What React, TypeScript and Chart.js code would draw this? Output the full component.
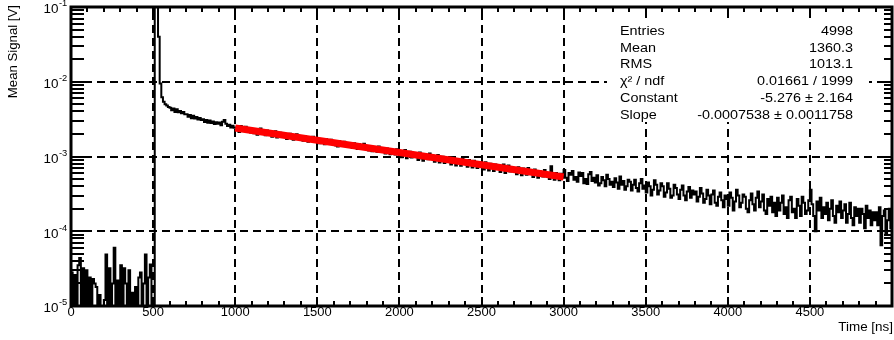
import React, { useEffect, useRef } from "react";
import { Chart, registerables } from "chart.js";

Chart.register(...registerables);

// ---------------- data (10 ns bins, contiguous) ----------------
const binWidth = 10;
// 0 – 490 ns : pedestal noise
const signalBaseline = [
  2.8e-5, 0, 2.6e-5, 0, 3.5e-5, 4.4e-5, 0, 3.2e-5, 0, 3.0e-5,
  0, 2.4e-5, 0, 2.3e-5, 2.0e-5, 1.8e-5, 0, 1.4e-5, 0, 0,
  1.2e-5, 4.9e-5, 0, 3.2e-5, 0, 2.0e-5, 6.0e-5, 0, 2.2e-5, 0,
  3.5e-5, 0, 3.2e-5, 2.0e-5, 0, 3.0e-5, 0, 1.5e-5, 0, 1.8e-5,
  0, 2.4e-5, 2.8e-5, 0, 2.0e-5, 4.9e-5, 0, 2.4e-5, 3.6e-5, 0,
];
// 500 – 590 ns : prompt peak
const signalPeak = [0, 1.5e-1, 1.3e-1, 4.0e-2, 9.5e-3, 6.2e-3, 5.4e-3, 5.0e-3, 4.8e-3, 4.6e-3];
// 600 – 2990 ns : slow component (fit region inside)
const signalDecayA = [
  4.50e-3, 4.15e-3, 4.40e-3, 3.95e-3, 4.30e-3, 3.90e-3, 4.05e-3, 3.80e-3, 3.95e-3, 3.68e-3,
  3.68e-3, 3.40e-3, 3.58e-3, 3.25e-3, 3.50e-3, 3.22e-3, 3.38e-3, 3.12e-3, 3.28e-3, 3.08e-3,
  3.15e-3, 2.90e-3, 3.08e-3, 2.82e-3, 3.02e-3, 2.80e-3, 2.95e-3, 2.72e-3, 2.88e-3, 2.74e-3,
  2.85e-3, 2.62e-3, 2.92e-3, 3.08e-3, 2.75e-3, 2.55e-3, 2.66e-3, 2.45e-3, 2.58e-3, 2.42e-3,
  2.45e-3, 2.30e-3, 2.12e-3, 2.55e-3, 2.20e-3, 2.38e-3, 2.50e-3, 2.15e-3, 2.28e-3, 2.10e-3,
  2.33e-3, 2.05e-3, 2.18e-3, 1.95e-3, 2.25e-3, 2.36e-3, 2.00e-3, 2.12e-3, 1.93e-3, 2.22e-3,
  2.02e-3, 2.15e-3, 1.84e-3, 1.97e-3, 2.18e-3, 1.80e-3, 1.92e-3, 2.08e-3, 1.86e-3, 2.00e-3,
  1.95e-3, 1.72e-3, 1.88e-3, 2.02e-3, 1.76e-3, 1.68e-3, 1.90e-3, 1.98e-3, 1.74e-3, 1.82e-3,
  1.80e-3, 1.62e-3, 1.86e-3, 1.70e-3, 1.58e-3, 1.76e-3, 1.64e-3, 1.84e-3, 1.60e-3, 1.72e-3,
  1.66e-3, 1.50e-3, 1.72e-3, 1.56e-3, 1.46e-3, 1.70e-3, 1.60e-3, 1.48e-3, 1.68e-3, 1.52e-3,
  1.55e-3, 1.40e-3, 1.36e-3, 1.60e-3, 1.48e-3, 1.38e-3, 1.57e-3, 1.44e-3, 1.35e-3, 1.50e-3,
  1.42e-3, 1.30e-3, 1.50e-3, 1.34e-3, 1.26e-3, 1.46e-3, 1.38e-3, 1.28e-3, 1.48e-3, 1.32e-3,
  1.33e-3, 1.20e-3, 1.38e-3, 1.18e-3, 1.30e-3, 1.24e-3, 1.16e-3, 1.36e-3, 1.22e-3, 1.28e-3,
  1.24e-3, 1.10e-3, 1.28e-3, 1.14e-3, 1.07e-3, 1.22e-3, 1.17e-3, 1.06e-3, 1.25e-3, 1.12e-3,
  1.18e-3, 0.98e-3, 1.12e-3, 1.22e-3, 0.95e-3, 1.05e-3, 1.16e-3, 0.97e-3, 1.10e-3, 1.02e-3,
  1.08e-3, 0.90e-3, 1.13e-3, 0.95e-3, 0.88e-3, 1.06e-3, 1.00e-3, 0.92e-3, 1.10e-3, 0.94e-3,
  1.02e-3, 0.85e-3, 0.96e-3, 1.05e-3, 0.83e-3, 0.90e-3, 0.99e-3, 0.82e-3, 0.94e-3, 0.88e-3,
  0.92e-3, 0.78e-3, 0.97e-3, 0.84e-3, 0.76e-3, 0.90e-3, 0.86e-3, 0.75e-3, 0.95e-3, 0.81e-3,
  0.85e-3, 0.73e-3, 0.90e-3, 0.77e-3, 0.71e-3, 0.88e-3, 0.80e-3, 0.70e-3, 0.84e-3, 0.76e-3,
  0.79e-3, 0.67e-3, 0.84e-3, 0.72e-3, 0.65e-3, 0.80e-3, 0.75e-3, 0.64e-3, 0.78e-3, 0.70e-3,
  0.74e-3, 0.62e-3, 0.71e-3, 0.78e-3, 0.60e-3, 0.68e-3, 0.76e-3, 0.63e-3, 0.72e-3, 0.66e-3,
  0.66e-3, 0.58e-3, 0.72e-3, 0.61e-3, 0.56e-3, 0.69e-3, 0.64e-3, 0.57e-3, 0.70e-3, 0.60e-3,
  0.63e-3, 0.53e-3, 0.67e-3, 0.57e-3, 0.52e-3, 0.64e-3, 0.60e-3, 0.54e-3, 0.66e-3, 0.56e-3,
  0.58e-3, 0.50e-3, 0.74e-3, 0.55e-3, 0.49e-3, 0.60e-3, 0.53e-3, 0.48e-3, 0.59e-3, 0.52e-3,
];
// 3000 – 4990 ns : tail
const signalDecayB = [
  0.66e-3, 0.52e-3, 0.47e-3, 0.60e-3, 0.57e-3, 0.64e-3, 0.49e-3, 0.53e-3, 0.46e-3, 0.61e-3,
  0.55e-3, 0.60e-3, 0.44e-3, 0.50e-3, 0.43e-3, 0.58e-3, 0.62e-3, 0.47e-3, 0.52e-3, 0.45e-3,
  0.56e-3, 0.41e-3, 0.44e-3, 0.53e-3, 0.48e-3, 0.40e-3, 0.57e-3, 0.50e-3, 0.42e-3, 0.46e-3,
  0.39e-3, 0.51e-3, 0.45e-3, 0.37e-3, 0.54e-3, 0.42e-3, 0.47e-3, 0.36e-3, 0.40e-3, 0.49e-3,
  0.46e-3, 0.35e-3, 0.42e-3, 0.49e-3, 0.38e-3, 0.34e-3, 0.44e-3, 0.50e-3, 0.37e-3, 0.41e-3,
  0.33e-3, 0.45e-3, 0.40e-3, 0.30e-3, 0.36e-3, 0.48e-3, 0.42e-3, 0.31e-3, 0.35e-3, 0.44e-3,
  0.40e-3, 0.29e-3, 0.33e-3, 0.44e-3, 0.37e-3, 0.28e-3, 0.30e-3, 0.42e-3, 0.38e-3, 0.31e-3,
  0.27e-3, 0.36e-3, 0.41e-3, 0.30e-3, 0.26e-3, 0.34e-3, 0.39e-3, 0.28e-3, 0.35e-3, 0.31e-3,
  0.34e-3, 0.25e-3, 0.29e-3, 0.38e-3, 0.32e-3, 0.24e-3, 0.27e-3, 0.36e-3, 0.30e-3, 0.23e-3,
  0.31e-3, 0.35e-3, 0.24e-3, 0.22e-3, 0.29e-3, 0.33e-3, 0.26e-3, 0.21e-3, 0.30e-3, 0.27e-3,
  0.22e-3, 0.33e-3, 0.28e-3, 0.19e-3, 0.25e-3, 0.36e-3, 0.30e-3, 0.21e-3, 0.24e-3, 0.31e-3,
  0.29e-3, 0.20e-3, 0.18e-3, 0.26e-3, 0.32e-3, 0.23e-3, 0.19e-3, 0.28e-3, 0.34e-3, 0.21e-3,
  0.25e-3, 0.31e-3, 0.19e-3, 0.17e-3, 0.27e-3, 0.22e-3, 0.29e-3, 0.18e-3, 0.24e-3, 0.16e-3,
  0.28e-3, 0.19e-3, 0.24e-3, 0.30e-3, 0.17e-3, 0.21e-3, 0.15e-3, 0.26e-3, 0.29e-3, 0.18e-3,
  0.20e-3, 0.15e-3, 0.27e-3, 0.22e-3, 0.16e-3, 0.29e-3, 0.24e-3, 0.17e-3, 0.19e-3, 0.26e-3,
  0.36e-3, 0.23e-3, 0.16e-3, 0.10e-3, 0.25e-3, 0.19e-3, 0.28e-3, 0.15e-3, 0.21e-3, 0.17e-3,
  0.24e-3, 0.14e-3, 0.20e-3, 0.26e-3, 0.16e-3, 0.13e-3, 0.22e-3, 0.18e-3, 0.25e-3, 0.15e-3,
  0.19e-3, 0.23e-3, 0.13e-3, 0.17e-3, 0.24e-3, 0.15e-3, 0.12e-3, 0.21e-3, 0.16e-3, 0.20e-3,
  0.13e-3, 0.20e-3, 0.17e-3, 0.11e-3, 0.22e-3, 0.15e-3, 0.19e-3, 0.12e-3, 0.18e-3, 0.14e-3,
  0.18e-3, 0.12e-3, 0.21e-3, 0.065e-3, 0.16e-3, 0.19e-3, 0.09e-3, 0.14e-3, 0.20e-3, 0.11e-3,
];

// exponential fit line (endpoints of fit range)
const fitTimes = [1000, 3000];
const fitValues = [2.40e-3, 5.33e-4];

// axes
const xMin = 0;
const xMax = 5000;
const yMin = 1e-5;
const yMax = 1e-1;
const xMajorTicks = [0, 500, 1000, 1500, 2000, 2500, 3000, 3500, 4000, 4500];
const xTickLabels = ["0", "500", "1000", "1500", "2000", "2500", "3000", "3500", "4000", "4500"];
const xMinorStep = 100;
const yDecades = [1e-5, 1e-4, 1e-3, 1e-2, 1e-1];
const yTickExponents = ["-5", "-4", "-3", "-2", "-1"];
const xTitle = "Time [ns]";
const yTitle = "Mean Signal [V]";

// stats box
const statNames = ["Entries", "Mean", "RMS", "χ² / ndf", "Constant", "Slope"];
const statValues = ["4998", "1360.3", "1013.1", "0.01661 / 1999", "-5.276 ± 2.164", "-0.0007538 ± 0.0011758"];

// ---------------- drawing helpers ----------------
const FONT = '"Liberation Sans", Arial, Helvetica, sans-serif';

function drawText(
  ctx: CanvasRenderingContext2D,
  text: string,
  x: number,
  y: number,
  align: CanvasTextAlign,
  size: number,
  sx: number,
  rotate = 0
) {
  ctx.save();
  ctx.translate(x, y);
  if (rotate) ctx.rotate(rotate);
  ctx.scale(sx, 1);
  ctx.font = `${size}px ${FONT}`;
  ctx.textAlign = align;
  ctx.textBaseline = "middle";
  ctx.fillStyle = "#000";
  ctx.fillText(text, 0, 0);
  ctx.restore();
}

function seg(ctx: CanvasRenderingContext2D, x1: number, y1: number, x2: number, y2: number) {
  ctx.beginPath();
  ctx.moveTo(x1, y1);
  ctx.lineTo(x2, y2);
  ctx.stroke();
}

const rootStylePlugin = {
  id: "rootStyle",
  beforeDatasetsDraw(chart: any) {
    const { ctx, chartArea: a, scales } = chart;
    const xs = scales.x;
    const ys = scales.y;
    ctx.save();
    ctx.strokeStyle = "#000";
    ctx.lineWidth = 2;
    ctx.setLineDash([8, 5]);
    for (const t of xMajorTicks) {
      if (t <= xMin || t >= xMax) continue;
      const px = Math.round(xs.getPixelForValue(t));
      seg(ctx, px, a.bottom, px, a.top);
    }
    for (const d of yDecades) {
      if (d <= yMin || d >= yMax) continue;
      const py = Math.round(ys.getPixelForValue(d));
      seg(ctx, a.left, py, a.right, py);
    }
    ctx.restore();
  },
  afterDraw(chart: any) {
    const { ctx, chartArea: a, scales } = chart;
    const xs = scales.x;
    const ys = scales.y;
    ctx.save();

    // stats box (white, no border)
    ctx.fillStyle = "#fff";
    ctx.fillRect(607, 18, 262, 104);
    const rowY0 = 31.5;
    const rowDy = 16.8;
    statNames.forEach((n, i) => {
      drawText(ctx, n, 620, rowY0 + i * rowDy, "left", 12, 1.2);
    });
    statValues.forEach((v, i) => {
      drawText(ctx, v, 853, rowY0 + i * rowDy, "right", 12, 1.2);
    });

    // ticks
    ctx.strokeStyle = "#000";
    ctx.lineWidth = 2;
    ctx.setLineDash([]);
    for (let t = xMin; t <= xMax; t += xMinorStep) {
      const px = Math.round(xs.getPixelForValue(t));
      const major = xMajorTicks.includes(t);
      const len = major ? 9 : 5;
      seg(ctx, px, a.bottom, px, a.bottom - len);
      seg(ctx, px, a.top, px, a.top + len);
    }
    for (let k = 0; k < yDecades.length; k++) {
      const d = yDecades[k];
      for (let m = 1; m <= 9; m++) {
        const v = d * m;
        if (v > yMax * 1.0001) break;
        const py = Math.round(ys.getPixelForValue(v));
        seg(ctx, a.left, py, a.left + 13, py);
        seg(ctx, a.right, py, a.right - 8, py);
      }
    }

    // frame
    ctx.lineWidth = 3;
    ctx.strokeRect(a.left, a.top, a.right - a.left, a.bottom - a.top);

    // x tick labels
    xMajorTicks.forEach((t, i) => {
      const px = xs.getPixelForValue(t);
      drawText(ctx, xTickLabels[i], px, 313, "center", 12, 1.08);
    });
    // y tick labels
    yDecades.forEach((d, i) => {
      const py = ys.getPixelForValue(d);
      drawText(ctx, "10", 58.5, py + 3, "right", 12, 1.12);
      drawText(ctx, yTickExponents[i], 59, py - 3, "left", 8.5, 1.1);
    });
    // titles
    drawText(ctx, xTitle, 893, 328, "right", 12, 1.12);
    drawText(ctx, yTitle, 14, 5, "right", 12, 1.1, -Math.PI / 2);

    ctx.restore();
  },
};

export default function App() {
  const ref = useRef<HTMLCanvasElement | null>(null);

  useEffect(() => {
    const canvas = ref.current;
    if (!canvas) return;

    const allBins = [...signalBaseline, ...signalPeak, ...signalDecayA, ...signalDecayB];
    const histPoints = allBins.map((v, i) => ({ x: i * binWidth, y: v > 0 ? v : yMin }));
    const last = allBins[allBins.length - 1];
    histPoints.push({ x: allBins.length * binWidth, y: last > 0 ? last : yMin });

    const fitPoints = fitTimes.map((t, i) => ({ x: t, y: fitValues[i] }));

    const chart = new Chart(canvas, {
      type: "line",
      data: {
        datasets: [
          {
            label: "fit",
            data: fitPoints,
            borderColor: "#ff0000",
            borderWidth: 7,
            pointRadius: 0,
            borderCapStyle: "butt",
            order: 0,
          },
          {
            label: "hist",
            data: histPoints,
            borderColor: "#000000",
            borderWidth: 2,
            pointRadius: 0,
            stepped: "before",
            borderJoinStyle: "miter",
            order: 1,
          },
        ],
      },
      options: {
        animation: false,
        responsive: false,
        maintainAspectRatio: false,
        events: [],
        layout: { padding: { left: 71, right: 2, top: 7, bottom: 34 } },
        scales: {
          x: { type: "linear", min: xMin, max: xMax, display: false },
          y: { type: "logarithmic", min: yMin, max: yMax, display: false },
        },
        plugins: {
          legend: { display: false },
          tooltip: { enabled: false },
          title: { display: false },
        },
      },
      plugins: [rootStylePlugin],
    } as any);

    return () => chart.destroy();
  }, []);

  return (
    <div style={{ position: "fixed", left: 0, top: 0, width: 894, height: 340, background: "#fff" }}>
      <canvas ref={ref} width={894} height={340} style={{ display: "block" }} />
    </div>
  );
}
